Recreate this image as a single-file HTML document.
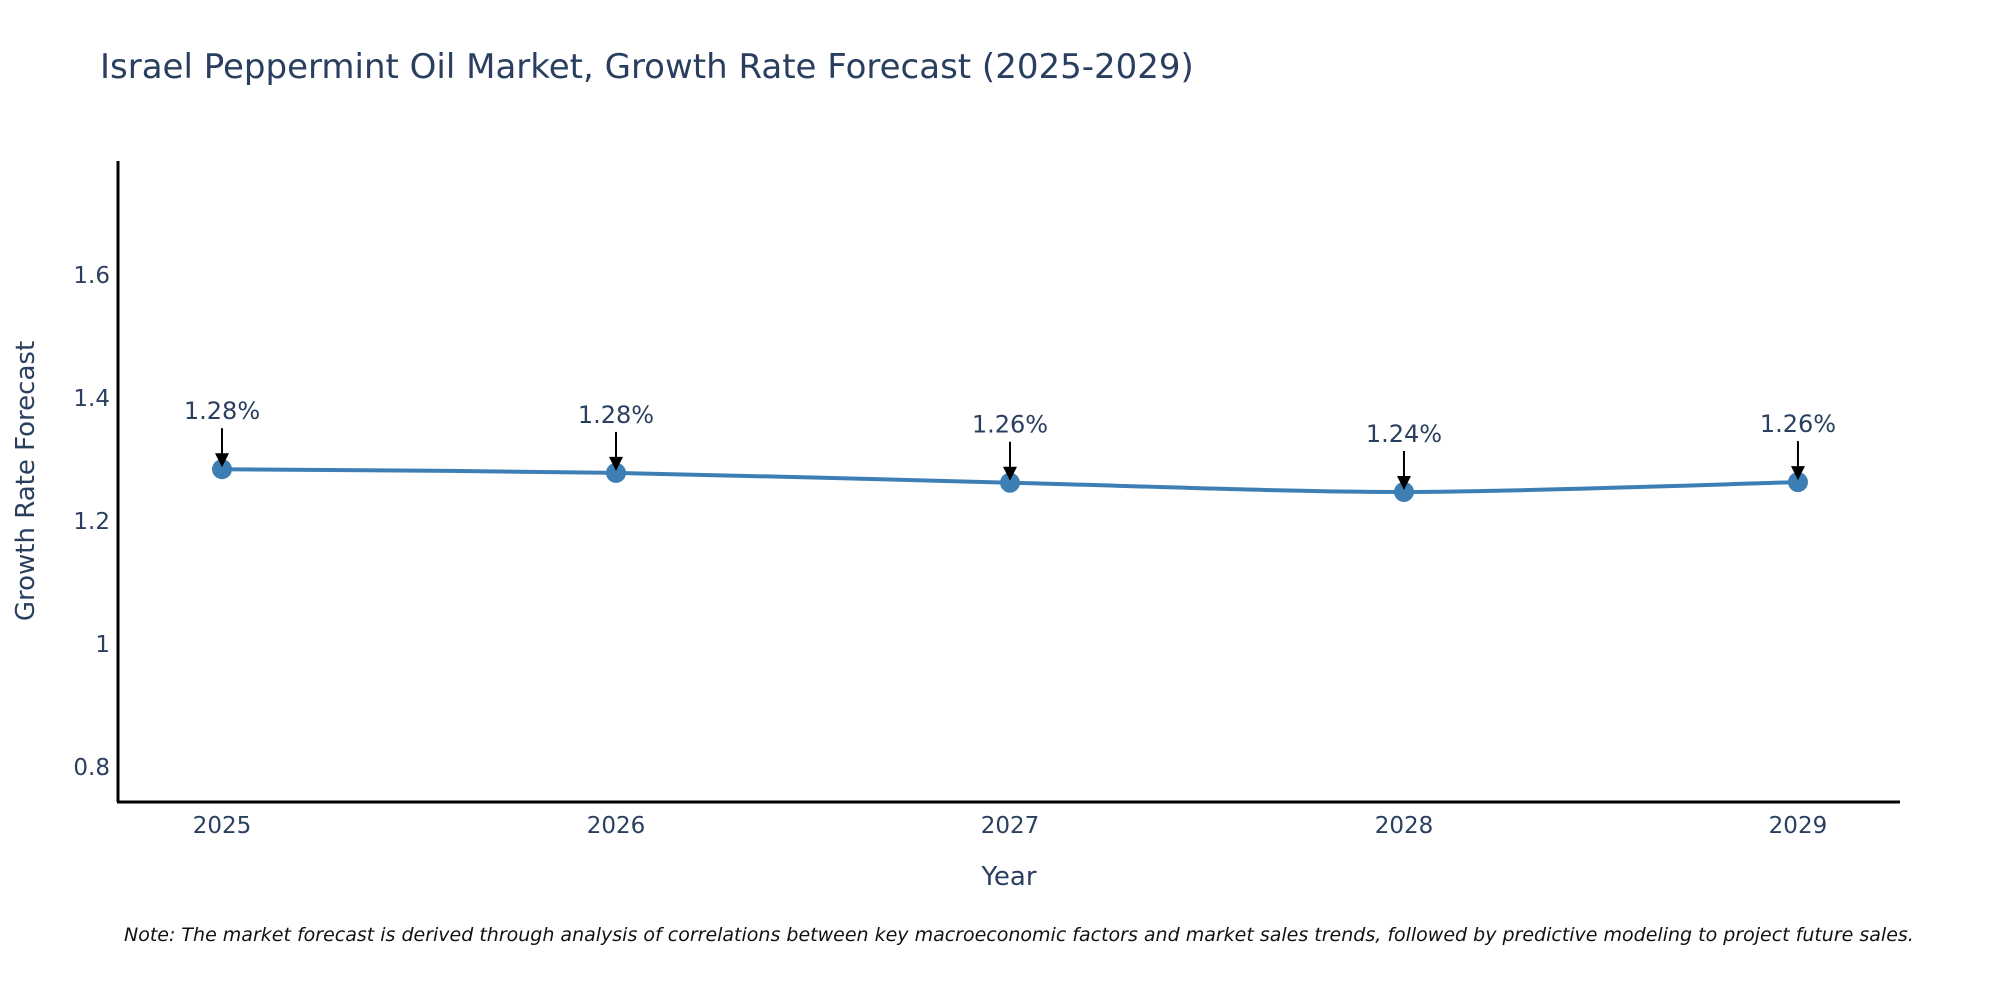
<!DOCTYPE html>
<html><head><meta charset="utf-8"><style>
body{margin:0;background:#fff}
svg{display:block;font-family:"DejaVu Sans","Liberation Sans",sans-serif}
</style></head><body>
<svg id="chart" width="2000" height="1000">
<text x="100" y="78" font-size="34" fill="#2a3f5f">Israel Peppermint Oil Market, Growth Rate Forecast (2025-2029)</text>
<g id="yticks"></g>
<g id="xticks"></g>
<path id="line" fill="none" stroke="#3d7fb5" stroke-width="4"/>
<g id="points"></g>
<g id="annots"></g>
<line x1="118" y1="161" x2="118" y2="802" stroke="#000" stroke-width="3"/>
<line x1="117" y1="802" x2="1900" y2="802" stroke="#000" stroke-width="3"/>
<text transform="translate(34,481) rotate(-90)" text-anchor="middle" font-size="26" fill="#2a3f5f">Growth Rate Forecast</text>
<text x="1009" y="885" text-anchor="middle" font-size="26" fill="#2a3f5f">Year</text>
<text x="124" y="941" font-size="19" font-style="italic" fill="#111">Note: The market forecast is derived through analysis of correlations between key macroeconomic factors and market sales trends, followed by predictive modeling to project future sales.</text>
</svg>
<script>
const years=[2025,2026,2027,2028,2029];
const values=[1.284,1.278,1.262,1.247,1.263];
const labels=["1.28%","1.28%","1.26%","1.24%","1.26%"];
const yTicks=[0.8,1,1.2,1.4,1.6];
const yTickLabels=["0.8","1","1.2","1.4","1.6"];
const X0=118,X1=1900,Y0=802,Y1=161;
const xMin=2024.736,xMax=2029.259,yMin=0.743,yMax=1.785;
function xs(v){return X0+(v-xMin)/(xMax-xMin)*(X1-X0);}
function ys(v){return Y0-(v-yMin)/(yMax-yMin)*(Y0-Y1);}
const NS="http://www.w3.org/2000/svg";
function mk(t,a,p){const e=document.createElementNS(NS,t);for(const k in a)e.setAttribute(k,a[k]);p.appendChild(e);return e;}
const yt=document.getElementById('yticks');
yTicks.forEach((v,i)=>{const t=mk('text',{x:110,y:ys(v)+8,'text-anchor':'end','font-size':23,fill:'#2a3f5f'},yt);t.textContent=yTickLabels[i];

});
const xt=document.getElementById('xticks');
years.forEach(y=>{const t=mk('text',{x:xs(y),y:833,'text-anchor':'middle','font-size':23,fill:'#2a3f5f'},xt);t.textContent=String(y);

});
const P=years.map((y,i)=>[xs(y),ys(values[i])]);
let d='M'+P[0][0]+','+P[0][1];
for(let i=0;i<P.length-1;i++){const p0=P[Math.max(i-1,0)],p1=P[i],p2=P[i+1],p3=P[Math.min(i+2,P.length-1)];const s=0.15;
d+=' C'+(p1[0]+(p2[0]-p0[0])*s)+','+(p1[1]+(p2[1]-p0[1])*s)+' '+(p2[0]-(p3[0]-p1[0])*s)+','+(p2[1]-(p3[1]-p1[1])*s)+' '+p2[0]+','+p2[1];}
document.getElementById('line').setAttribute('d',d);
const pg=document.getElementById('points'),ag=document.getElementById('annots');
P.forEach((p,i)=>{const c=mk('circle',{cx:p[0],cy:p[1],r:10,fill:'#3d7fb5'},pg);


const l=mk('line',{x1:p[0],y1:p[1]-41,x2:p[0],y2:p[1]-14,stroke:'#000','stroke-width':2},ag);


const h=mk('polygon',{points:(p[0]-7)+','+(p[1]-16)+' '+(p[0]+7)+','+(p[1]-16)+' '+p[0]+','+(p[1]-2),fill:'#000'},ag);


const t=mk('text',{x:p[0],y:p[1]-50,'text-anchor':'middle','font-size':24,fill:'#2a3f5f'},ag);t.textContent=labels[i];

});
</script>
</body></html>
